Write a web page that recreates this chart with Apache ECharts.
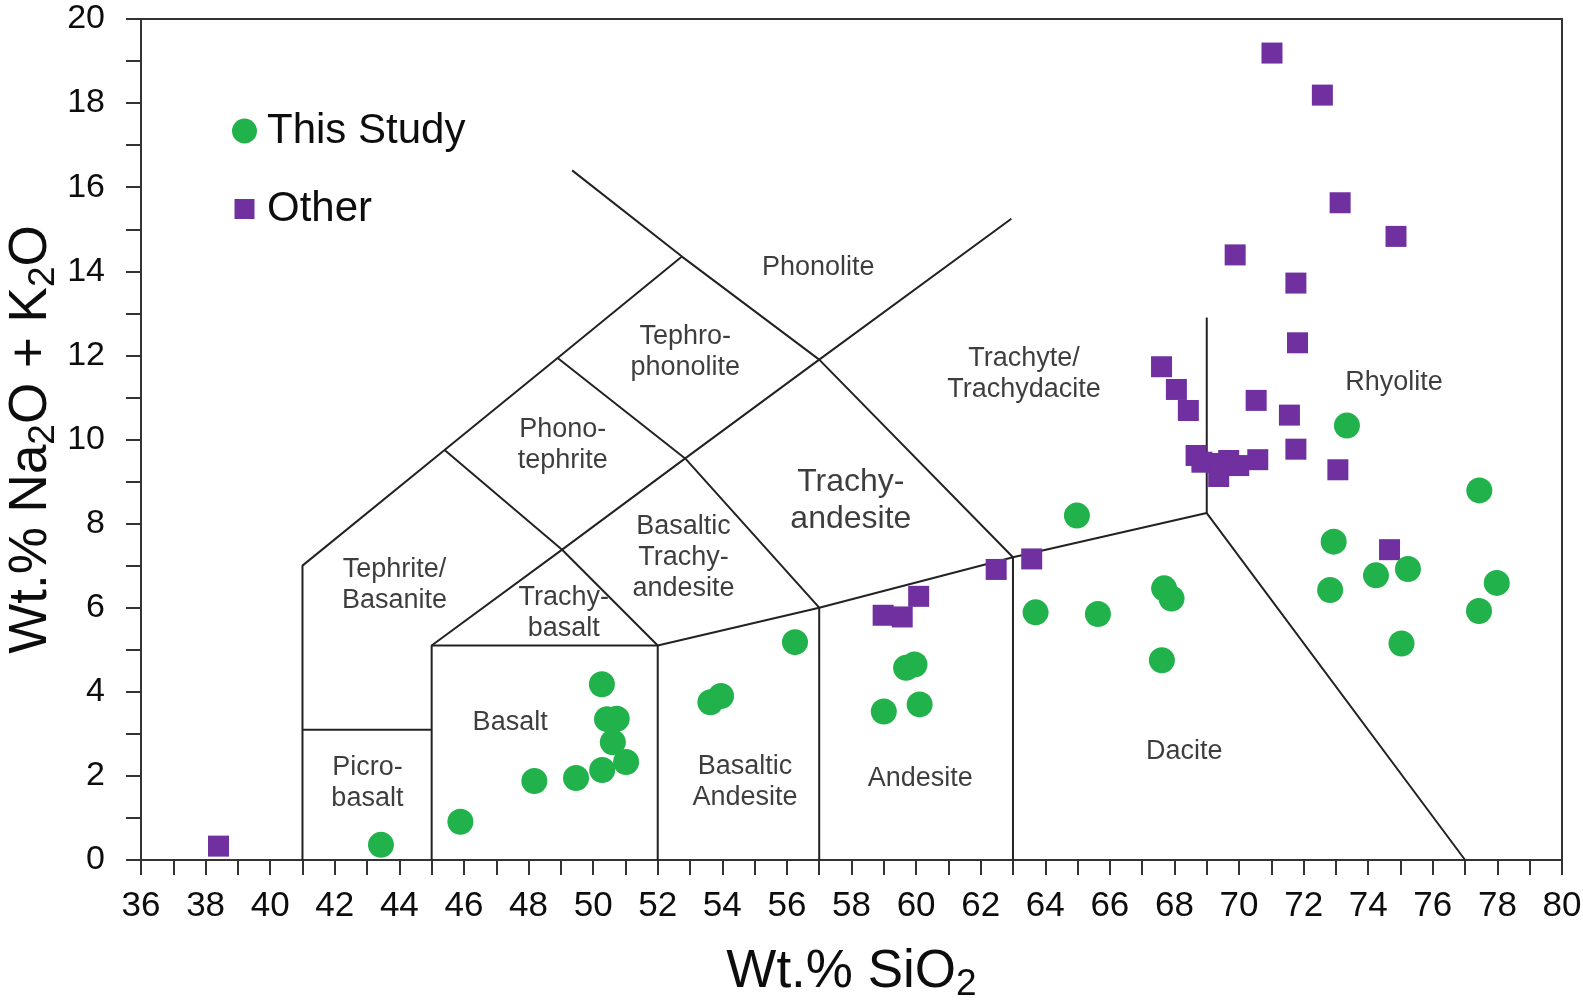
<!DOCTYPE html>
<html>
<head>
<meta charset="utf-8">
<script src="https://cdn.jsdelivr.net/npm/echarts@6/dist/echarts.min.js"></script>
<style>
  html, body { margin: 0; padding: 0; background: #fff; }
  #chart { width: 1583px; height: 1002px; }
</style>
</head>
<body>
<div id="chart"></div>
<script>
// Total alkali vs. silica (TAS) classification plot.

const FONT = '"Liberation Sans", Arial, Helvetica, sans-serif';
const INK = '#0d0d0d';
const FRAME = '#333';
const GREEN = '#21B24B';
const PURPLE = '#7030A0';

// Samples as [SiO2 wt.%, Na2O + K2O wt.%]
const thisStudy = [
  [43.43, 0.36], [45.89, 0.91], [48.18, 1.88], [49.47, 1.95], [50.28, 2.14],
  [51.02, 2.33], [50.61, 2.80], [50.43, 3.35], [50.73, 3.36], [50.27, 4.18],
  [53.63, 3.75], [53.96, 3.90], [56.25, 5.18], [59.00, 3.53], [60.11, 3.70],
  [59.69, 4.57], [59.95, 4.65], [63.70, 5.89], [64.98, 8.19], [65.63, 5.85],
  [67.68, 6.46], [67.91, 6.22], [67.61, 4.75], [72.93, 7.57], [72.82, 6.42],
  [74.24, 6.77], [75.23, 6.92], [75.03, 5.15], [77.44, 8.79], [77.98, 6.59],
  [77.43, 5.92], [73.34, 10.33]
];

const otherSamples = [
  [38.40, 0.33], [58.98, 5.82], [59.57, 5.78], [60.08, 6.27], [62.48, 6.91],
  [63.58, 7.16], [67.60, 11.73], [68.06, 11.19], [68.43, 10.69], [68.67, 9.62],
  [68.85, 9.46], [69.37, 9.12], [69.40, 9.43], [69.68, 9.50], [69.99, 9.38],
  [70.58, 9.52], [70.53, 10.93], [71.56, 10.58], [71.76, 9.77], [73.06, 9.28],
  [74.66, 7.38], [69.88, 14.39], [71.76, 13.72], [71.81, 12.30], [73.13, 15.63],
  [74.86, 14.83], [71.02, 19.19], [72.58, 18.19]
];

// Field boundaries, each a polyline of [SiO2, alkali] vertices
const fieldBoundaries = [
  [[41, 0], [41, 7], [45.4, 9.75], [48.9, 11.94], [52.75, 14.35]],
  [[41, 3.1], [45, 3.1]],
  [[45, 0], [45, 5.1], [52, 5.1], [52, 0]],
  [[52, 5.1], [57, 6.0], [63, 7.2], [69, 8.25], [77, 0]],
  [[57, 0], [57, 6.0]],
  [[63, 0], [63, 7.2]],
  [[69, 8.25], [69, 12.9]],
  [[45, 5.1], [49.04, 7.38], [52.85, 9.55], [57, 11.9], [62.95, 15.25]],
  [[45.4, 9.75], [49.04, 7.38], [52, 5.1]],
  [[48.9, 11.94], [52.85, 9.55], [57, 6.0]],
  [[49.35, 16.4], [52.75, 14.35], [57, 11.9], [63, 7.2]]
];

// Rock names and where they sit on the plot
const fieldNames = ['Picro-\nbasalt', 'Basalt', 'Basaltic\nAndesite', 'Andesite', 'Dacite',
  'Rhyolite', 'Tephrite/\nBasanite', 'Trachy-\nbasalt', 'Basaltic\nTrachy-\nandesite',
  'Trachy-\nandesite', 'Trachyte/\nTrachydacite', 'Phono-\ntephrite', 'Tephro-\nphonolite', 'Phonolite'];
const fieldNameAt = [[43.01, 1.83], [47.43, 3.27], [54.70, 1.86], [60.13, 1.94], [68.30, 2.58],
  [74.80, 11.35], [43.85, 6.55], [49.09, 5.87], [52.80, 7.20],
  [57.98, 8.55], [63.34, 11.55], [49.06, 9.86], [52.85, 12.09], [56.97, 14.10]];
const emphasisedField = 'Trachy-\nandesite';

const xRange = { min: 36, max: 80, step: 2 };
const yRange = { min: 0, max: 20, step: 2 };

const chart = echarts.init(document.getElementById('chart'), null, { renderer: 'canvas' });

const tickStyle = { color: FRAME, width: 2 };

function axisBase(range, labelSize, labelMargin) {
  return {
    type: 'value',
    min: range.min,
    max: range.max,
    interval: range.step,
    axisLine: { show: true, onZero: false, lineStyle: { color: FRAME, width: 2 } },
    axisTick: { show: true, inside: false, length: 15, lineStyle: tickStyle },
    minorTick: { show: true, splitNumber: 2, length: 15, lineStyle: tickStyle },
    splitLine: { show: false },
    minorSplitLine: { show: false },
    axisLabel: { fontFamily: FONT, fontSize: labelSize, color: INK, margin: labelMargin }
  };
}

// Axis titles: regular text plus lowered subscript digits (top padding pushes them down)
const nameRich = {
  a: { fontFamily: FONT, fontSize: 53, color: INK, lineHeight: 60 },
  s: { fontFamily: FONT, fontSize: 37, color: INK, lineHeight: 36, padding: [26, 0, 0, 0] }
};

const boundarySeries = fieldBoundaries.map((pts, i) => ({
  type: 'line',
  name: 'boundary' + i,
  data: pts,
  showSymbol: false,
  symbol: 'none',
  silent: true,
  z: 2,
  lineStyle: { color: '#222', width: 2 },
  emphasis: { disabled: true },
  tooltip: { show: false }
}));

const labelSeries = {
  type: 'scatter',
  name: 'fields',
  symbolSize: 0,
  silent: true,
  z: 3,
  data: fieldNames.map((n, i) => {
    const item = { name: n, value: fieldNameAt[i] };
    if (n === emphasisedField) {
      item.label = { fontSize: 32, lineHeight: 37 };
    }
    return item;
  }),
  label: {
    show: true,
    position: 'inside',
    formatter: '{b}',
    fontFamily: FONT,
    fontSize: 27,
    lineHeight: 31,
    color: INK,
    align: 'center',
    verticalAlign: 'middle'
  },
  labelLayout: { hideOverlap: false }
};

chart.setOption({
  animation: false,
  backgroundColor: '#fff',
  grid: {
    left: 141, right: 21, top: 19, bottom: 142,
    show: true, borderColor: FRAME, borderWidth: 2,
    containLabel: false, outerBoundsMode: 'none'
  },
  legend: {
    show: true,
    orient: 'vertical',
    left: 227,
    top: 105,
    itemWidth: 25,
    itemHeight: 25,
    itemGap: 36,
    data: [
      { name: 'This Study', icon: 'circle' },
      { name: 'Other', icon: 'path://M0,0M2.5,2.5L22.5,2.5L22.5,22.5L2.5,22.5ZM25,25' }
    ],
    textStyle: { fontFamily: FONT, fontSize: 42, color: INK, lineHeight: 42, padding: [0, 0, 0, 5] }
  },
  xAxis: Object.assign(axisBase(xRange, 35, 29), {
    name: '{a|Wt.% SiO}{s|2}',
    nameLocation: 'middle',
    nameGap: 82,
    nameTextStyle: { rich: nameRich }
  }),
  yAxis: Object.assign(axisBase(yRange, 34, 36), {
    name: '{a|Wt.% Na}{s|2}{a|O + K}{s|2}{a|O}',
    nameLocation: 'middle',
    nameRotate: 90,
    nameGap: 80,
    nameMoveOverlap: false,
    nameTextStyle: { rich: nameRich }
  }),
  series: [
    ...boundarySeries,
    labelSeries,
    {
      type: 'scatter',
      name: 'Other',
      data: otherSamples,
      symbol: 'rect',
      symbolSize: 21,
      z: 4,
      itemStyle: { color: PURPLE, opacity: 1 }
    },
    {
      type: 'scatter',
      name: 'This Study',
      data: thisStudy,
      symbol: 'circle',
      symbolSize: 26,
      z: 5,
      itemStyle: { color: GREEN, opacity: 1 }
    }
  ]
});
</script>
</body>
</html>
